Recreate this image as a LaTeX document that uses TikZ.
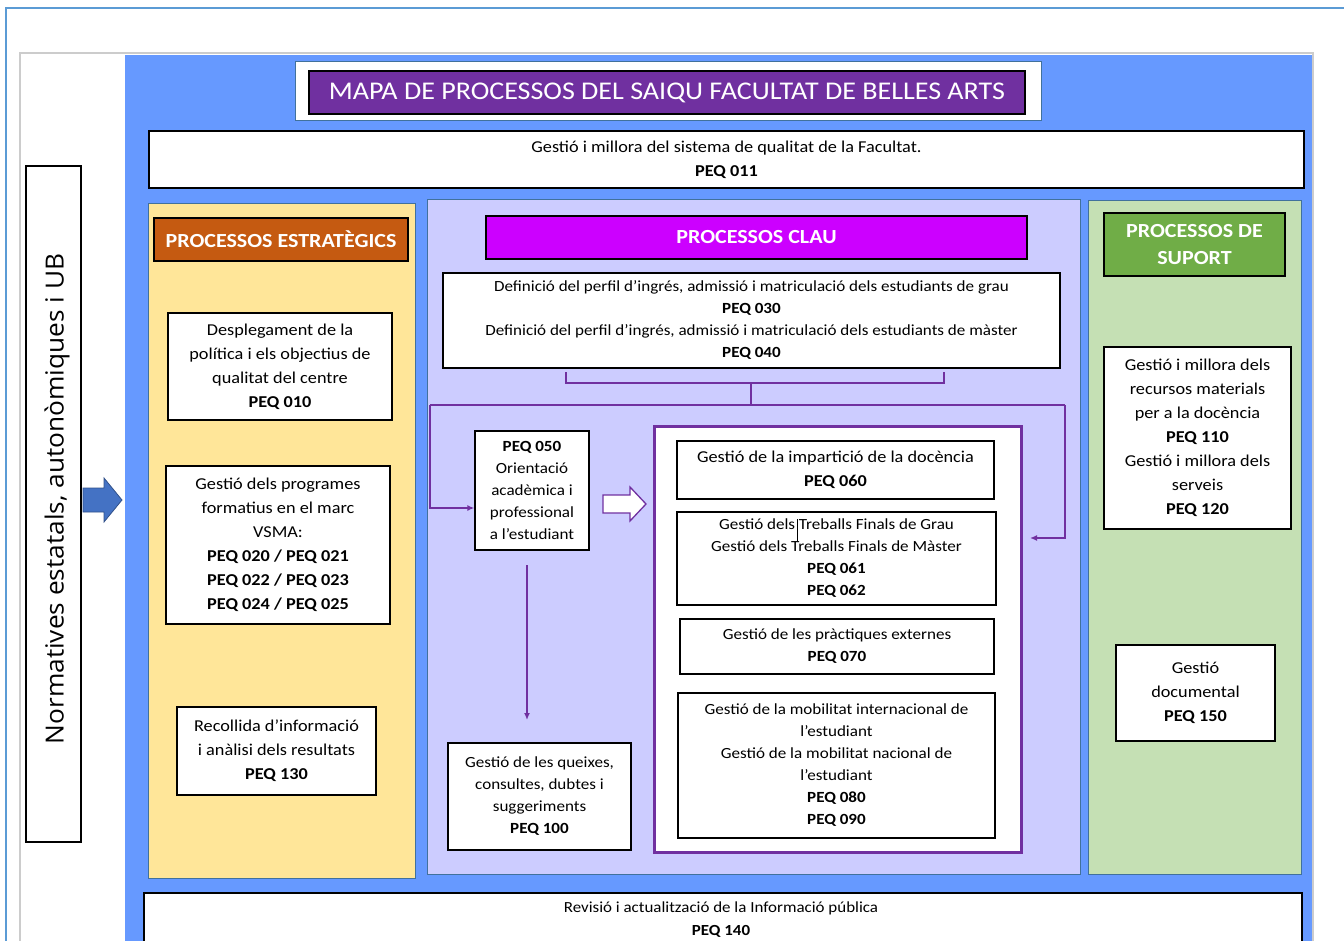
\documentclass[tikz,border=0pt]{standalone}
\usepackage{fontspec}
\setmainfont{Carlito}[FakeStretch=1.1]
\newfontfamily\sidefont{Open Sans}[FakeStretch=1.05]
\usetikzlibrary{arrows.meta}
\definecolor{bgblue}{RGB}{102,153,255}
\definecolor{frameblue}{RGB}{91,155,213}
\definecolor{colborder}{RGB}{65,113,156}
\definecolor{yellowcol}{RGB}{255,230,153}
\definecolor{lavcol}{RGB}{204,204,255}
\definecolor{greencol}{RGB}{197,224,180}
\definecolor{orangehd}{RGB}{197,90,17}
\definecolor{magentahd}{RGB}{204,0,255}
\definecolor{greenhd}{RGB}{112,173,71}
\definecolor{titlepurple}{RGB}{112,48,160}
\definecolor{arrowblue}{RGB}{68,114,196}
\newcommand\fsz[2]{\fontsize{#1}{#2}\selectfont}
\begin{document}
\begin{tikzpicture}[x=1pt,y=-1pt,
  box/.style={draw=black, fill=white, line width=1.3pt, align=center, inner sep=0pt, font=\fsz{16.6}{24}},
  boxs/.style={box, font=\fsz{15.5}{22}},
  column/.style={draw=colborder, line width=1pt, inner sep=0pt},
  header/.style={draw=black, line width=1.3pt, text=white, align=center, inner sep=0pt, font=\fsz{20}{27}\bfseries},
  pl/.style={draw=titlepurple, line width=1.5pt},
  tip/.style={-{Latex[length=7pt,width=6pt]}}
]
\useasboundingbox (0,0) rectangle (1344,941);
\clip (0,0) rectangle (1344,941);
% outer frames and background
\draw[frameblue, line width=1.5pt] (6,960) -- (6,8) -- (1350,8);
\draw[black!20, line width=2pt] (20,960) -- (20,53) -- (1313,53) -- (1313,960);
\fill[bgblue] (125,55) rectangle (1312,960);
% left vertical box
\node[draw=black, line width=1.3pt, fill=white, minimum width=55pt, minimum height=676pt, inner sep=0pt] (norm) at (53.5,504) {};
\node[rotate=90, font=\sidefont\fsz{25}{28}] (normtxt) at (57,499) {Normatives estatals, autonòmiques i UB};
\draw[draw=arrowblue!70!black, fill=arrowblue, line width=0.8pt] (83,488) -- (104,488) -- (104,478) -- (122,500) -- (104,522) -- (104,512) -- (83,512) -- cycle;
% title
\node[draw=colborder, line width=1pt, fill=white, minimum width=746pt, minimum height=59pt, inner sep=0pt] (titleout) at (668,91.5) {};
\node[draw=black, line width=1.3pt, fill=titlepurple, text=white, minimum width=716pt, minimum height=43pt, inner sep=0pt, font=\fsz{25.5}{28}] (title) at (667,92.5) {MAPA DE PROCESSOS DEL SAIQU FACULTAT DE BELLES ARTS};
% PEQ 011
\node[box, minimum width=1155pt, minimum height=57pt] (p011) at (726.5,159.5) {Gestió i millora del sistema de qualitat de la Facultat.\\\textbf{PEQ 011}};
% columns
\node[column, fill=yellowcol, minimum width=267pt, minimum height=674pt] (colE) at (281.5,541) {};
\node[column, fill=lavcol, minimum width=653pt, minimum height=674pt] (colC) at (753.5,537) {};
\node[column, fill=greencol, minimum width=213pt, minimum height=673pt] (colS) at (1194.5,537.5) {};
% headers
\node[header, fill=orangehd, minimum width=254pt, minimum height=43pt] (hE) at (281,239.5) {PROCESSOS ESTRATÈGICS};
\node[header, fill=magentahd, minimum width=541pt, minimum height=43pt] (hC) at (756.5,237.5) {PROCESSOS CLAU};
\node[header, fill=greenhd, minimum width=181pt, minimum height=63pt] (hS) at (1194.5,244.5) {PROCESSOS DE\\SUPORT};
% strategic boxes
\node[box, minimum width=224pt, minimum height=107pt] (p010) at (280,366.5) {Desplegament de la\\política i els objectius de\\qualitat del centre\\\textbf{PEQ 010}};
\node[box, minimum width=224pt, minimum height=158pt] (p020) at (278,545) {Gestió dels programes\\formatius en el marc\\VSMA:\\\textbf{PEQ 020 / PEQ 021}\\\textbf{PEQ 022 / PEQ 023}\\\textbf{PEQ 024 / PEQ 025}};
\node[box, minimum width=199pt, minimum height=88pt] (p130) at (276.5,751) {Recollida d’informació\\i anàlisi dels resultats\\\textbf{PEQ 130}};
% key processes
\node[boxs, minimum width=617pt, minimum height=95pt] (p030) at (751.5,320.5) {Definició del perfil d’ingrés, admissió i matriculació dels estudiants de grau\\\textbf{PEQ 030}\\Definició del perfil d’ingrés, admissió i matriculació dels estudiants de màster\\\textbf{PEQ 040}};
\node[boxs, minimum width=114pt, minimum height=119pt] (p050) at (532,490.5) {\textbf{PEQ 050}\\Orientació\\acadèmica i\\professional\\a l’estudiant};
\node[boxs, minimum width=183pt, minimum height=107pt] (p100) at (539.5,796.5) {Gestió de les queixes,\\consultes, dubtes i\\suggeriments\\\textbf{PEQ 100}};
\node[draw=titlepurple, line width=3pt, fill=white, minimum width=367pt, minimum height=426pt, inner sep=0pt] (frame) at (837.5,639) {};
\node[box, minimum width=317pt, minimum height=58pt] (p060) at (835.5,470) {Gestió de la impartició de la docència\\\textbf{PEQ 060}};
\node[boxs, minimum width=319pt, minimum height=93pt] (p061) at (836.5,558.5) {Gestió dels Treballs Finals de Grau\\Gestió dels Treballs Finals de Màster\\\textbf{PEQ 061}\\\textbf{PEQ 062}};
\node[boxs, minimum width=314pt, minimum height=55pt] (p070) at (837,646.5) {Gestió de les pràctiques externes\\\textbf{PEQ 070}};
\node[boxs, minimum width=317pt, minimum height=145pt] (p080) at (836.5,765.5) {Gestió de la mobilitat internacional de\\l’estudiant\\Gestió de la mobilitat nacional de\\l’estudiant\\\textbf{PEQ 080}\\\textbf{PEQ 090}};
\draw[line width=1pt] (797,519) -- (797,541);
% support
\node[box, minimum width=187pt, minimum height=182pt] (p110) at (1197.5,438) {Gestió i millora dels\\recursos materials\\per a la docència\\\textbf{PEQ 110}\\Gestió i millora dels\\serveis\\\textbf{PEQ 120}};
\node[box, minimum width=159pt, minimum height=96pt] (p150) at (1195.5,693) {Gestió\\documental\\\textbf{PEQ 150}};
% bottom
\node[box, minimum width=1158pt, minimum height=66pt] (p140) at (723,926) {};
\node[align=center, inner sep=0pt, font=\fsz{15.4}{23}] (p140t) at (721,919.5) {Revisió i actualització de la Informació pública\\\textbf{PEQ 140}};
% connectors
\coordinate (bA) at (566,372);
\coordinate (bB) at (944,372);
\coordinate (bM) at (751,383);
\coordinate (hL) at (430,405);
\coordinate (hR) at (1065,405);
\coordinate (y508) at (0,508);
\coordinate (rTip) at (1030,538);
\coordinate (vS) at (527,565);
\coordinate (vE) at (527,720);
\draw[pl] (bA) |- (bM) -| (bB);
\draw[pl] (bM) -- (bM |- hL);
\draw[pl] (hL) -- (hR);
\draw[pl, tip] (hL) |- (p050.west |- y508);
\draw[pl, tip] (hR) |- (rTip);
\draw[pl, tip] (vS) -- (vE);
\draw[draw=titlepurple, fill=white, line width=1.3pt] (603,495) -- (630,495) -- (630,487) -- (646,504) -- (630,521) -- (630,513) -- (603,513) -- cycle;
\end{tikzpicture}
\end{document}
